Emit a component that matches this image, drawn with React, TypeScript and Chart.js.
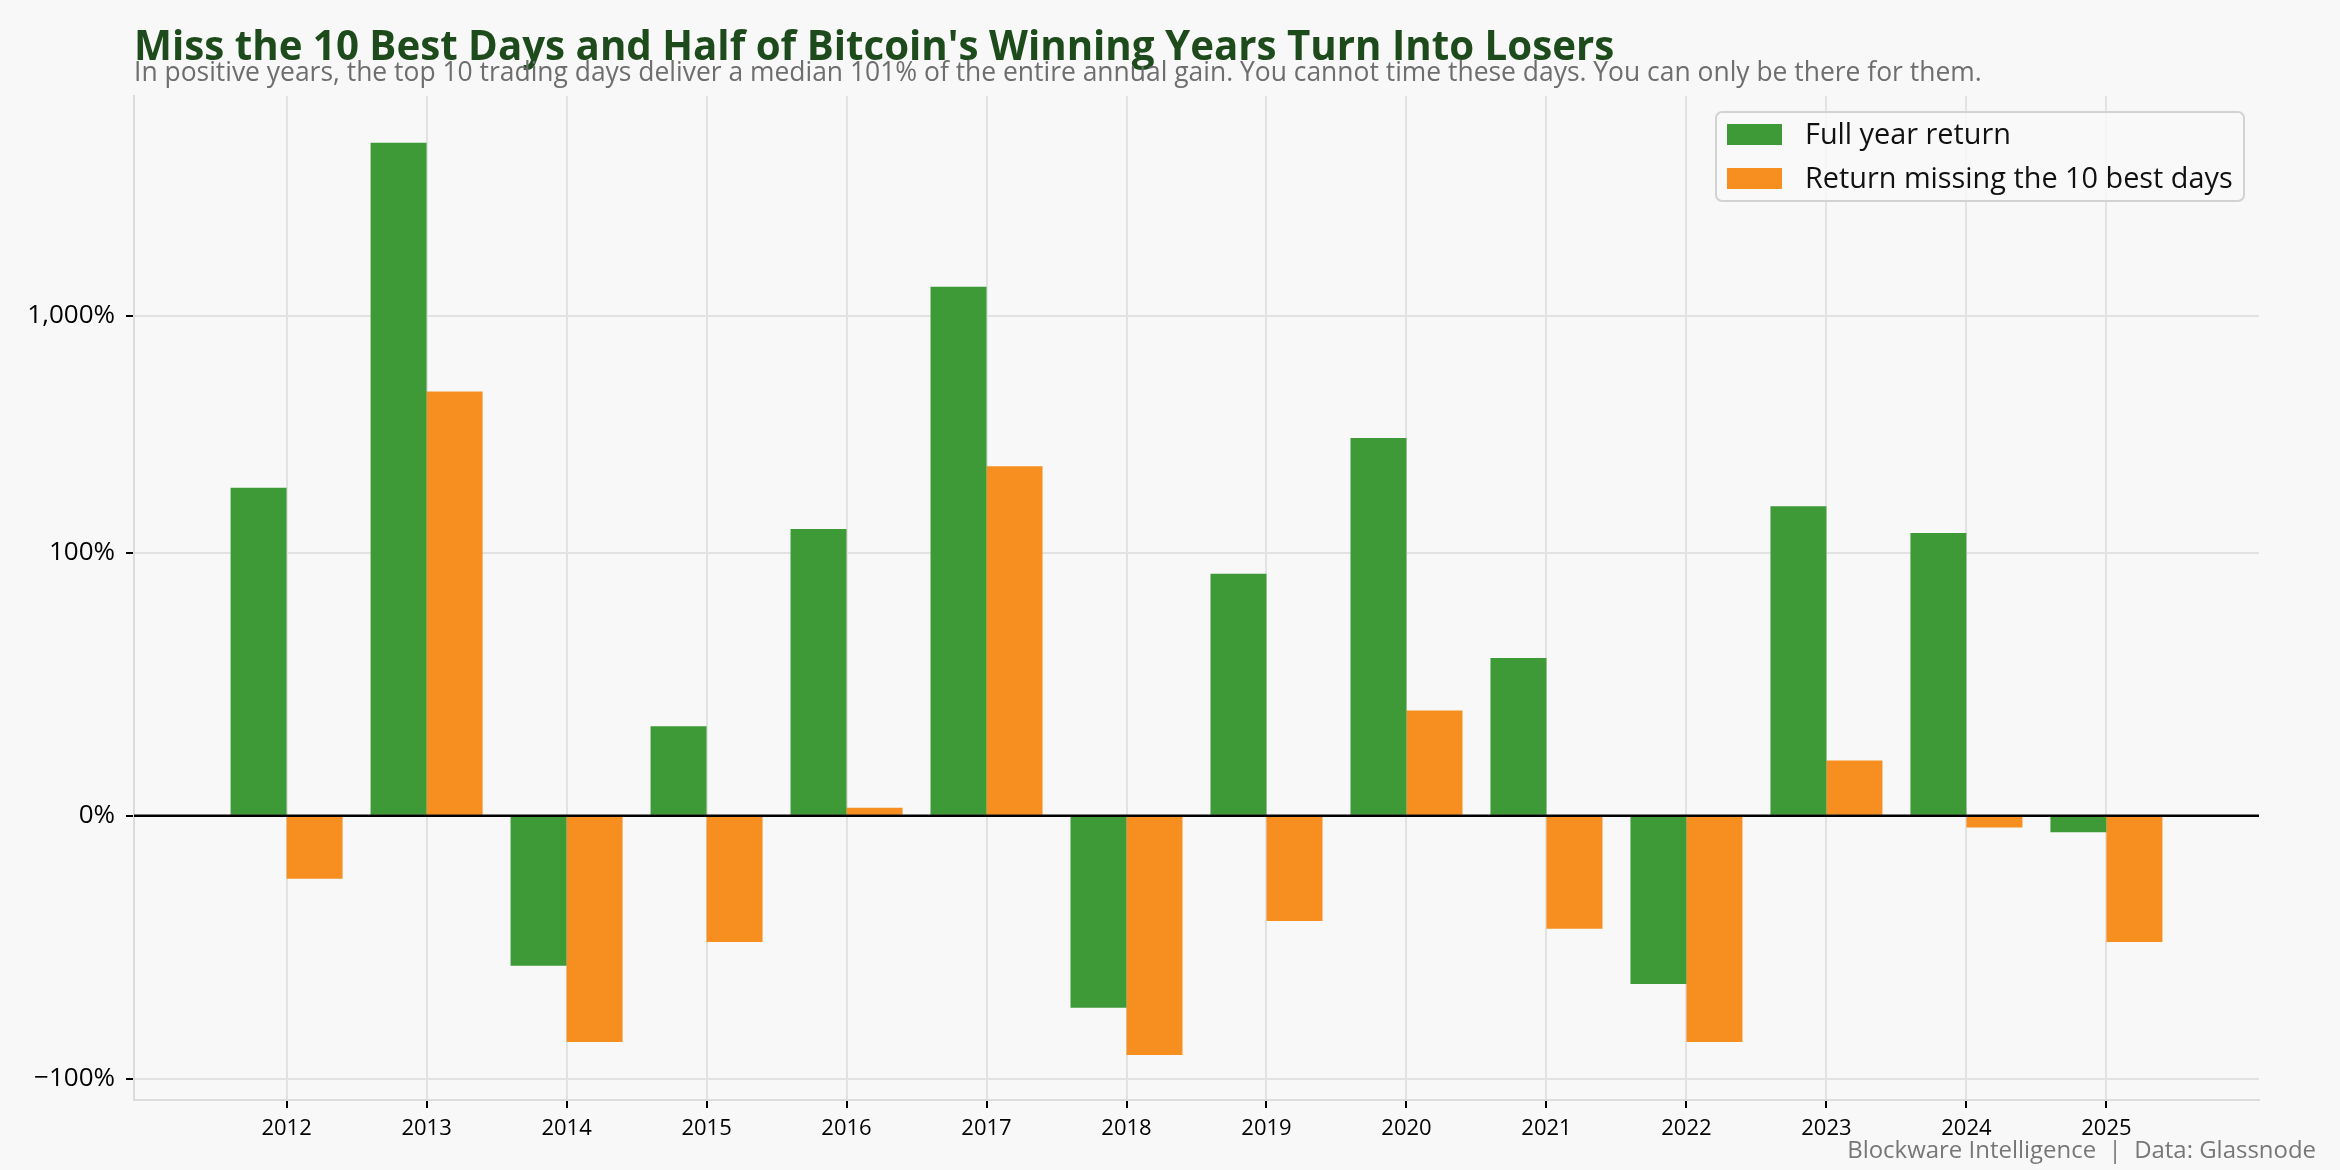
import React, { useEffect, useRef } from "react";
import { Chart, registerables, LinearScale } from "chart.js";

Chart.register(...registerables);

// ---------- DATA ----------
const years = ["2012", "2013", "2014", "2015", "2016", "2017", "2018", "2019", "2020", "2021", "2022", "2023", "2024", "2025"];
const fullYearReturn = [188, 5400, -57, 34, 126, 1330, -73, 92, 305, 60, -64, 157, 121, -6.3];
const missingBestDays = [-24, 480, -86, -48, 3, 232, -91, -40, 40, -43, -86, 21, -4.5, -48];
const yTickValues = [-100, 0, 100, 1000];
const seriesLabels = ["Full year return", "Return missing the 10 best days"];

const TITLE = "Miss the 10 Best Days and Half of Bitcoin's Winning Years Turn Into Losers";
const SUBTITLE = "In positive years, the top 10 trading days deliver a median 101% of the entire annual gain. You cannot time these days. You can only be there for them.";
const FOOTER = "Blockware Intelligence  |  Data: Glassnode";

// ---------- STYLE ----------
const BG = "#f8f8f8";
const GREEN = "#3d9a36";
const ORANGE = "#f68f1f";
const GRID = "#e2e2e2";
const FAMILY = "'Open Sans', 'Noto Sans', sans-serif";

// ---------- SYMLOG SCALE (matplotlib-like, linthresh 100%, linscale 1) ----------
const LINTHRESH = 100;
const LINADJ = 1 / (1 - 1 / 10);
function symlog(v: number): number {
  const a = Math.abs(v);
  return a <= LINTHRESH ? (v / LINTHRESH) * LINADJ : Math.sign(v) * (LINADJ + Math.log10(a / LINTHRESH));
}
function invSymlog(t: number): number {
  const a = Math.abs(t);
  return a <= LINADJ ? (t / LINADJ) * LINTHRESH : Math.sign(t) * LINTHRESH * Math.pow(10, a - LINADJ);
}

class SymlogScale extends LinearScale {
  static id = "symlog";
  static defaults = LinearScale.defaults;
  _tmin = 0;
  _tmax = 1;
  determineDataLimits() {
    (this as any).min = (this as any).options.min;
    (this as any).max = (this as any).options.max;
  }
  buildTicks() {
    (this as any).start = (this as any).min;
    (this as any).end = (this as any).max;
    return yTickValues.map((v) => ({ value: v }));
  }
  configure() {
    super.configure();
    this._tmin = symlog((this as any).min);
    this._tmax = symlog((this as any).max);
  }
  getPixelForValue(v: number) {
    return (this as any).getPixelForDecimal((symlog(v) - this._tmin) / (this._tmax - this._tmin));
  }
  getValueForPixel(p: number) {
    return invSymlog(this._tmin + (this as any).getDecimalForPixel(p) * (this._tmax - this._tmin));
  }
}
Chart.register(SymlogScale as any);

function fitFont(ctx: CanvasRenderingContext2D, text: string, weight: string, target: number) {
  ctx.font = `${weight} 100px ${FAMILY}`;
  const w = ctx.measureText(text).width;
  const size = (100 * target) / w;
  ctx.font = `${weight} ${size}px ${FAMILY}`;
  return size;
}

const overlayPlugin = {
  id: "overlay",
  beforeDraw(chart: any) {
    const { ctx, width, height } = chart;
    ctx.save();
    ctx.fillStyle = BG;
    ctx.fillRect(0, 0, width, height);
    ctx.restore();
  },
  afterDraw(chart: any) {
    const { ctx, chartArea, scales } = chart;
    ctx.save();
    // zero line
    const y0 = scales.y.getPixelForValue(0);
    ctx.strokeStyle = "#000";
    ctx.lineWidth = 2.5;
    ctx.beginPath();
    ctx.moveTo(chartArea.left, y0);
    ctx.lineTo(chartArea.right, y0);
    ctx.stroke();

    // title & subtitle
    ctx.textAlign = "left";
    ctx.textBaseline = "alphabetic";
    fitFont(ctx, TITLE, "bold", 1481);
    ctx.fillStyle = "#1e4b1c";
    ctx.fillText(TITLE, 134, 60);
    fitFont(ctx, SUBTITLE, "normal", 1848);
    ctx.fillStyle = "#6e6e6e";
    ctx.fillText(SUBTITLE, 134, 81);

    // footer
    ctx.textAlign = "right";
    fitFont(ctx, FOOTER, "normal", 469);
    ctx.fillStyle = "#777777";
    ctx.fillText(FOOTER, 2316, 1158);

    // legend
    const bx = 1716, by = 112, bw = 528, bh = 89;
    ctx.beginPath();
    (ctx as any).roundRect(bx, by, bw, bh, 6);
    ctx.fillStyle = "rgba(248,248,248,0.9)";
    ctx.fill();
    ctx.strokeStyle = "#d2d2d2";
    ctx.lineWidth = 2;
    ctx.stroke();
    const colors = [GREEN, ORANGE];
    const centers = [134.5, 178.5];
    ctx.textAlign = "left";
    ctx.textBaseline = "middle";
    fitFont(ctx, seriesLabels[1], "normal", 428);
    seriesLabels.forEach((lab, i) => {
      ctx.fillStyle = colors[i];
      ctx.fillRect(1727, centers[i] - 10.5, 55, 21);
      ctx.fillStyle = "#111";
      ctx.fillText(lab, 1805, centers[i] + 1);
    });
    ctx.restore();
  },
};

export default function App() {
  const ref = useRef<HTMLCanvasElement>(null);
  useEffect(() => {
    document.body.style.margin = "0";
    document.body.style.background = BG;
    const chart = new Chart(ref.current!, {
      type: "bar",
      data: {
        datasets: [
          {
            label: seriesLabels[0],
            data: years.map((_, i) => ({ x: i, y: fullYearReturn[i] })),
            backgroundColor: GREEN,
            borderWidth: 0,
          },
          {
            label: seriesLabels[1],
            data: years.map((_, i) => ({ x: i, y: missingBestDays[i] })),
            backgroundColor: ORANGE,
            borderWidth: 0,
          },
        ],
      },
      options: {
        responsive: false,
        animation: false,
        devicePixelRatio: 1,
        categoryPercentage: 0.8,
        barPercentage: 1,
        layout: { padding: { top: 96, right: 81, left: 0, bottom: 0 } },
        plugins: { legend: { display: false }, tooltip: { enabled: false }, title: { display: false } },
        scales: {
          x: {
            type: "linear",
            min: -1.09,
            max: 14.09,
            offset: false,
            z: 1,
            afterFit: (s: any) => {
              s.height = 70;
            },
            afterBuildTicks: (s: any) => {
              s.ticks = years.map((_, i) => ({ value: i }));
            },
            grid: { offset: false, color: GRID, lineWidth: 2, tickColor: "#000", tickLength: 8, tickWidth: 2 },
            border: { display: true, color: "#dcdcdc", width: 2 },
            ticks: {
              autoSkip: false,
              maxRotation: 0,
              padding: 8,
              color: "#000",
              font: { family: FAMILY, size: 22 },
              callback: (v: any) => years[Math.round(Number(v))] ?? "",
            },
          } as any,
          y: {
            type: "symlog",
            min: -123,
            max: 8500,
            z: 1,
            afterFit: (s: any) => {
              s.width = 134;
            },
            grid: {
              color: (c: any) => (c.tick && c.tick.value === 0 ? "rgba(0,0,0,0)" : GRID),
              lineWidth: 2,
              tickColor: "#000",
              tickLength: 8,
              tickWidth: 2,
            },
            border: { display: true, color: "#dcdcdc", width: 2 },
            ticks: {
              padding: 11,
              color: "#000",
              font: { family: FAMILY, size: 26 },
              callback: (v: any) => {
                const n = Number(v);
                return (n < 0 ? "\u2212" : "") + Math.abs(n).toLocaleString("en-US") + "%";
              },
            },
          } as any,
        },
      } as any,
      plugins: [overlayPlugin],
    });
    return () => chart.destroy();
  }, []);
  return (
    <div style={{ position: "fixed", left: 0, top: 0, width: 2340, height: 1170, background: BG }}>
      <canvas ref={ref} width={2340} height={1170} style={{ display: "block", width: 2340, height: 1170 }} />
    </div>
  );
}
